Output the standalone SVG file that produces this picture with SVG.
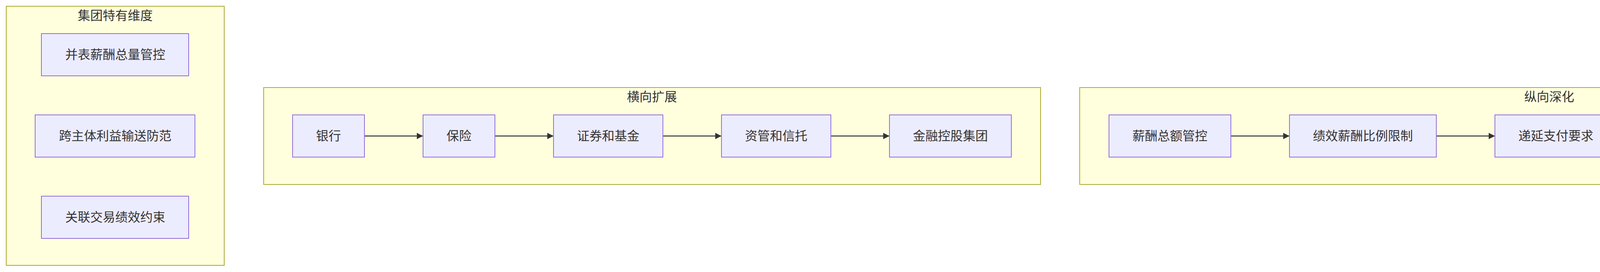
<svg xmlns="http://www.w3.org/2000/svg" width="5186" height="696" viewBox="0 0 5186 696">
<style>
.cluster rect{fill:#ffffde;stroke:#aaaa33;stroke-width:2}
.node rect{fill:#ececff;stroke:#9370db;stroke-width:2}
text{font-family:"Liberation Sans","Noto Sans CJK SC",sans-serif;font-size:32px;fill:#333;text-anchor:middle;dominant-baseline:central}
.edge{stroke:#333;stroke-width:2.5;fill:none;marker-end:url(#arrow)}
</style>
<defs>
<marker id="arrow" viewBox="0 0 10 10" refX="10" refY="5" markerUnits="userSpaceOnUse" markerWidth="17" markerHeight="16" orient="auto">
<path d="M0,0 L10,5 L0,10 z" fill="#333"/>
</marker>
</defs>
<rect width="5186" height="696" fill="#ffffff"/>
<g id="cluster-group" class="cluster">
<rect x="16" y="16" width="558" height="663"/>
<text x="295" y="40">集团特有维度</text>
</g>
<g id="cluster-horizontal" class="cluster">
<rect x="675" y="224" width="1989" height="248"/>
<text x="1669" y="248">横向扩展</text>
</g>
<g id="cluster-vertical" class="cluster">
<rect x="2764" y="224" width="2405" height="248"/>
<text x="3966" y="248">纵向深化</text>
</g>
<g id="connectors">
<line class="edge" x1="933" y1="348" x2="1083" y2="348"/>
<line class="edge" x1="1267" y1="348" x2="1417" y2="348"/>
<line class="edge" x1="1697" y1="348" x2="1847" y2="348"/>
<line class="edge" x1="2127" y1="348" x2="2277" y2="348"/>
<line class="edge" x1="3151" y1="348" x2="3301" y2="348"/>
<line class="edge" x1="3677" y1="348" x2="3827" y2="348"/>
<line class="edge" x1="4139" y1="348" x2="4289" y2="348"/>
<line class="edge" x1="4601" y1="348" x2="4751" y2="348"/>
</g>
<g id="G1" class="node"><rect x="106" y="86" width="377" height="108"/><text x="295" y="140">并表薪酬总量管控</text></g>
<g id="G2" class="node"><rect x="90" y="294" width="409" height="108"/><text x="295" y="348">跨主体利益输送防范</text></g>
<g id="G3" class="node"><rect x="106" y="502" width="377" height="108"/><text x="295" y="556">关联交易绩效约束</text></g>
<g id="H1" class="node"><rect x="749" y="294" width="184" height="108"/><text x="841" y="348">银行</text></g>
<g id="H2" class="node"><rect x="1083" y="294" width="184" height="108"/><text x="1175" y="348">保险</text></g>
<g id="H3" class="node"><rect x="1417" y="294" width="280" height="108"/><text x="1557" y="348">证券和基金</text></g>
<g id="H4" class="node"><rect x="1847" y="294" width="280" height="108"/><text x="1987" y="348">资管和信托</text></g>
<g id="H5" class="node"><rect x="2277" y="294" width="312" height="108"/><text x="2433" y="348">金融控股集团</text></g>
<g id="V1" class="node"><rect x="2839" y="294" width="312" height="108"/><text x="2995" y="348">薪酬总额管控</text></g>
<g id="V2" class="node"><rect x="3301" y="294" width="376" height="108"/><text x="3489" y="348">绩效薪酬比例限制</text></g>
<g id="V3" class="node"><rect x="3827" y="294" width="312" height="108"/><text x="3983" y="348">递延支付要求</text></g>
<g id="V4" class="node"><rect x="4289" y="294" width="312" height="108"/><text x="4445" y="348">追索扣回机制</text></g>
<g id="V5" class="node"><rect x="4751" y="294" width="344" height="108"/><text x="4923" y="348">全流程合规留痕</text></g>
</svg>
